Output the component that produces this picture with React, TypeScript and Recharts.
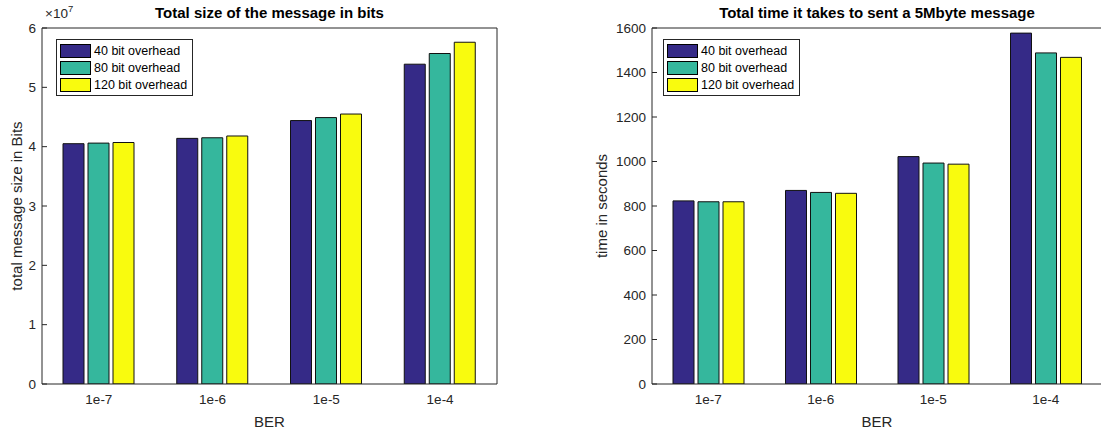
import React from 'react';
import { BarChart, Bar, XAxis, YAxis, Legend, Label } from 'recharts';

const categories = ['1e-7', '1e-6', '1e-5', '1e-4'];
const seriesNames = ['40 bit overhead', '80 bit overhead', '120 bit overhead'];
const seriesColors = ['#352a87', '#35b79d', '#f9fb0e'];

const size40 = [4.05e7, 4.14e7, 4.44e7, 5.39e7];
const size80 = [4.06e7, 4.15e7, 4.49e7, 5.57e7];
const size120 = [4.07e7, 4.18e7, 4.55e7, 5.76e7];
const sizeTicks = [0, 1e7, 2e7, 3e7, 4e7, 5e7, 6e7];

const time40 = [823, 870, 1022, 1577];
const time80 = [819, 861, 993, 1488];
const time120 = [819, 857, 988, 1468];
const timeTicks = [0, 200, 400, 600, 800, 1000, 1200, 1400, 1600];

const FONT = '"Liberation Sans", Arial, Helvetica, sans-serif';
const INK = '#262626';

const sizeData = categories.map((c, i) => ({ cat: c, s40: size40[i], s80: size80[i], s120: size120[i] }));
const timeData = categories.map((c, i) => ({ cat: c, s40: time40[i], s80: time80[i], s120: time120[i] }));

const LegendBox = (props: any) => {
  const payload = [...(props.payload || [])].sort(
    (a: any, b: any) => seriesNames.indexOf(a.value) - seriesNames.indexOf(b.value)
  );
  return (
    <div style={{ border: `1px solid ${INK}`, background: '#fff', padding: '2px 3px 2px 3px', fontFamily: FONT, fontSize: 12.5, color: '#000', width: 129 }}>
      {payload.map((e: any, i: number) => {
        const idx = seriesNames.indexOf(e.value);
        return (
          <div key={i} style={{ display: 'flex', alignItems: 'center', height: 17 }}>
            <span style={{ display: 'inline-block', width: 31, height: 14, background: seriesColors[idx >= 0 ? idx : i], border: '1px solid #000', marginRight: 3, boxSizing: 'border-box' }} />
            <span style={{ whiteSpace: 'nowrap' }}>{e.value}</span>
          </div>
        );
      })}
    </div>
  );
};

type PanelProps = {
  data: any[];
  width: number;
  yWidth: number;
  rightMargin: number;
  domainMax: number;
  ticks: number[];
  fmt: (v: number) => string;
  title: string;
  yLabel: string;
  yLabelOffset: number;
  legendLeft: number;
};

const tickStyle = { fontSize: 13.5, fill: INK, fontFamily: FONT };

const Panel = (p: PanelProps) => (
  <BarChart
    width={p.width}
    height={433}
    data={p.data}
    margin={{ top: 27, right: p.rightMargin, bottom: 0, left: 0 }}
    barGap={4}
    barSize={21}
  >
    <XAxis
      xAxisId="b"
      dataKey="cat"
      height={49}
      tickLine={false}
      tickSize={0}
      tickMargin={10}
      axisLine={{ stroke: INK }}
      tick={tickStyle}
    >
      <Label value="BER" position="insideBottom" offset={6} style={{ fontSize: 15, fill: INK, fontFamily: FONT }} />
    </XAxis>
    <XAxis
      xAxisId="t"
      orientation="top"
      dataKey="cat"
      height={1}
      tick={false}
      tickSize={-5}
      tickLine={{ stroke: INK }}
      axisLine={{ stroke: INK }}
    >
      <Label value={p.title} position="top" offset={9} style={{ fontSize: 15, fontWeight: 'bold', fill: '#000', fontFamily: FONT }} />
    </XAxis>
    <YAxis
      yAxisId="l"
      width={p.yWidth}
      domain={[0, p.domainMax]}
      ticks={p.ticks}
      tickFormatter={p.fmt}
      tickSize={-5}
      tickMargin={11}
      tickLine={{ stroke: INK }}
      axisLine={{ stroke: INK }}
      tick={tickStyle}
      allowDataOverflow
    >
      <Label value={p.yLabel} angle={-90} position="insideLeft" offset={p.yLabelOffset} style={{ fontSize: 15, fill: INK, fontFamily: FONT, textAnchor: 'middle' }} />
    </YAxis>
    <YAxis
      yAxisId="r"
      orientation="right"
      width={1}
      domain={[0, p.domainMax]}
      ticks={p.ticks}
      tick={false}
      tickSize={-5}
      tickLine={{ stroke: INK }}
      axisLine={{ stroke: INK }}
      allowDataOverflow
    />
    <Legend
      content={<LegendBox />}
      layout="horizontal"
      verticalAlign="middle"
      align="center"
      wrapperStyle={{ position: 'absolute', left: p.legendLeft, top: 39, width: 'auto', height: 'auto' }}
    />
    <Bar xAxisId="b" yAxisId="l" dataKey="s40" name={seriesNames[0]} fill={seriesColors[0]} stroke="#111" strokeWidth={1} isAnimationActive={false} />
    <Bar xAxisId="b" yAxisId="l" dataKey="s80" name={seriesNames[1]} fill={seriesColors[1]} stroke="#111" strokeWidth={1} isAnimationActive={false} />
    <Bar xAxisId="b" yAxisId="l" dataKey="s120" name={seriesNames[2]} fill={seriesColors[2]} stroke="#111" strokeWidth={1} isAnimationActive={false} />
  </BarChart>
);

export default function App() {
  return (
    <div style={{ position: 'absolute', left: 0, top: 0, width: 1101, height: 433, overflow: 'hidden', background: '#fff', fontFamily: FONT }}>
      <div style={{ position: 'absolute', left: 0, top: 0 }}>
        <Panel
          data={sizeData}
          width={540}
          yWidth={42}
          rightMargin={42}
          domainMax={6e7}
          ticks={sizeTicks}
          fmt={(v: number) => String(Math.round(v / 1e7))}
          title="Total size of the message in bits"
          yLabel="total message size in Bits"
          yLabelOffset={17}
          legendLeft={56}
        />
      </div>
      <div style={{ position: 'absolute', left: 45, top: 6, fontFamily: FONT, fontSize: 13.5, color: INK, whiteSpace: 'nowrap' }}>
        ×10<span style={{ fontSize: 9.5, position: 'relative', top: -6 }}>7</span>
      </div>
      <div style={{ position: 'absolute', left: 560, top: 0 }}>
        <Panel
          data={timeData}
          width={560}
          yWidth={92}
          rightMargin={17}
          domainMax={1600}
          ticks={timeTicks}
          fmt={(v: number) => String(v)}
          title="Total time it takes to sent a 5Mbyte message"
          yLabel="time in seconds"
          yLabelOffset={42}
          legendLeft={103}
        />
      </div>
    </div>
  );
}
